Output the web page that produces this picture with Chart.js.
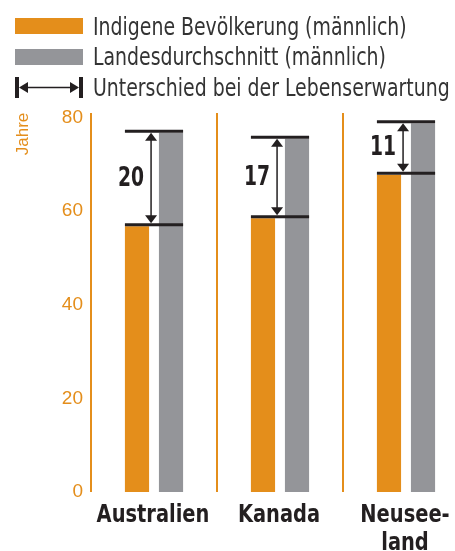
<!DOCTYPE html>
<html>
<head>
<meta charset="utf-8">
<script src="https://cdn.jsdelivr.net/npm/chart.js@4/dist/chart.umd.min.js"></script>
<style>
html,body{margin:0;padding:0;overflow:hidden;background:#fff;width:455px;height:551px;}
canvas{display:block;}
</style>
</head>
<body>
<canvas id="c" width="472" height="551"></canvas>
<script>
const categories = [["Australien"], ["Kanada"], ["Neusee-", "land"]];
const indigenous = [56.8, 58.5, 67.8];
const national = [76.8, 75.5, 78.8];
const legendLabels = ["Indigene Bevölkerung (männlich)", "Landesdurchschnitt (männlich)", "Unterschied bei der Lebenserwartung"];
const yTicks = [0, 20, 40, 60, 80];
const yTitle = "Jahre";

const ORANGE = '#E48E1B';
const GREY = '#949599';
const DARK = '#231F20';
const COND = '"DejaVu Sans Condensed", "DejaVu Sans", sans-serif';

function scaledText(ctx, text, x, y, sx) {
  ctx.save();
  ctx.translate(x, y);
  ctx.scale(sx, 1);
  ctx.fillText(text, 0, 0);
  ctx.restore();
}

const legendPlugin = {
  id: 'customLegend',
  afterDraw(chart) {
    const ctx = chart.ctx;
    ctx.save();
    ctx.fillStyle = ORANGE; ctx.fillRect(15, 18, 68, 16);
    ctx.fillStyle = GREY; ctx.fillRect(15, 49, 68, 16);
    ctx.fillStyle = DARK; ctx.strokeStyle = DARK;
    ctx.fillRect(15, 77, 4, 21);
    ctx.fillRect(79, 77, 4, 21);
    ctx.lineWidth = 1.5;
    ctx.beginPath(); ctx.moveTo(25, 87.5); ctx.lineTo(73, 87.5); ctx.stroke();
    ctx.beginPath(); ctx.moveTo(19, 87.5); ctx.lineTo(28, 82); ctx.lineTo(28, 93); ctx.closePath(); ctx.fill();
    ctx.beginPath(); ctx.moveTo(79, 87.5); ctx.lineTo(70, 82); ctx.lineTo(70, 93); ctx.closePath(); ctx.fill();
    ctx.fillStyle = '#333333';
    ctx.font = '24px ' + COND;
    ctx.textAlign = 'left'; ctx.textBaseline = 'alphabetic';
    const baselines = [34.5, 65, 95.5];
    legendLabels.forEach((t, i) => scaledText(ctx, t, 93, baselines[i], 0.875));
    ctx.restore();
  }
};

const diffPlugin = {
  id: 'diffMarks',
  afterDatasetsDraw(chart) {
    const ctx = chart.ctx;
    const m0 = chart.getDatasetMeta(0), m1 = chart.getDatasetMeta(1);
    m0.data.forEach((b0, i) => {
      const b1 = m1.data[i];
      const xl = b0.x - b0.width / 2, xr = b1.x + b1.width / 2;
      const yTop = b1.y - 1.5, yBot = b0.y - 1.5;
      ctx.save();
      ctx.strokeStyle = DARK; ctx.fillStyle = DARK;
      ctx.lineWidth = 3;
      ctx.beginPath();
      ctx.moveTo(xl, yTop); ctx.lineTo(xr, yTop);
      ctx.moveTo(xl, yBot); ctx.lineTo(xr, yBot);
      ctx.stroke();
      const ax = b0.x + b0.width / 2 + 2;
      const t = yTop + 1.5, bt = yBot - 1.5;
      ctx.lineWidth = 1.5;
      ctx.beginPath(); ctx.moveTo(ax, t + 6); ctx.lineTo(ax, bt - 6); ctx.stroke();
      ctx.beginPath(); ctx.moveTo(ax, t); ctx.lineTo(ax - 6, t + 8); ctx.lineTo(ax + 6, t + 8); ctx.closePath(); ctx.fill();
      ctx.beginPath(); ctx.moveTo(ax, bt); ctx.lineTo(ax - 6, bt - 8); ctx.lineTo(ax + 6, bt - 8); ctx.closePath(); ctx.fill();
      ctx.font = 'bold 26px ' + COND;
      ctx.textAlign = 'right'; ctx.textBaseline = 'middle';
      scaledText(ctx, String(Math.round(national[i] - indigenous[i])), ax - 7, (yTop + yBot) / 2 + 1, 0.8);
      ctx.restore();
    });
  }
};

const axisTextPlugin = {
  id: 'axisText',
  afterDraw(chart) {
    const ctx = chart.ctx;
    const xs = chart.scales.x;
    ctx.save();
    ctx.fillStyle = DARK;
    ctx.font = 'bold 24px ' + COND;
    ctx.textAlign = 'center'; ctx.textBaseline = 'alphabetic';
    categories.forEach((lines, i) => {
      const x = xs.getPixelForTick(i) - 1;
      lines.forEach((ln, j) => scaledText(ctx, ln, x, chart.chartArea.bottom + 30 + j * 28, 0.9));
    });
    ctx.translate(28, 134);
    ctx.rotate(-Math.PI / 2);
    ctx.font = '17px "Liberation Sans", sans-serif';
    ctx.fillStyle = ORANGE;
    ctx.textAlign = 'center'; ctx.textBaseline = 'alphabetic';
    ctx.fillText(yTitle, 0, 0);
    ctx.restore();
  }
};

new Chart(document.getElementById('c'), {
  type: 'bar',
  data: {
    labels: categories,
    datasets: [
      { label: legendLabels[0], data: indigenous, backgroundColor: ORANGE },
      { label: legendLabels[1], data: national, backgroundColor: GREY }
    ]
  },
  options: {
    responsive: false,
    animation: false,
    events: [],
    categoryPercentage: 0.54,
    barPercentage: 0.71,
    layout: { padding: { top: 113, right: 3, left: 0, bottom: 0 } },
    plugins: {
      tooltip: { enabled: false },
      legend: { display: false }
    },
    scales: {
      x: {
        grid: { display: true, offset: true, color: ORANGE, lineWidth: 2, drawTicks: false },
        border: { display: false },
        ticks: { display: false, autoSkip: false, maxRotation: 0, minRotation: 0 },
        afterFit: s => { s.height = 59; }
      },
      y: {
        min: 0, max: 81,
        grid: { display: false, drawTicks: false },
        border: { display: false },
        ticks: {
          stepSize: 20, includeBounds: false, color: ORANGE, padding: 8,
          font: { family: '"Liberation Sans", sans-serif', size: 19 }
        },
        afterBuildTicks: s => { s.ticks = yTicks.map(v => ({ value: v })); },
        afterFit: s => { s.width = 91; }
      }
    }
  },
  plugins: [diffPlugin, axisTextPlugin, legendPlugin]
});
</script>
</body>
</html>
